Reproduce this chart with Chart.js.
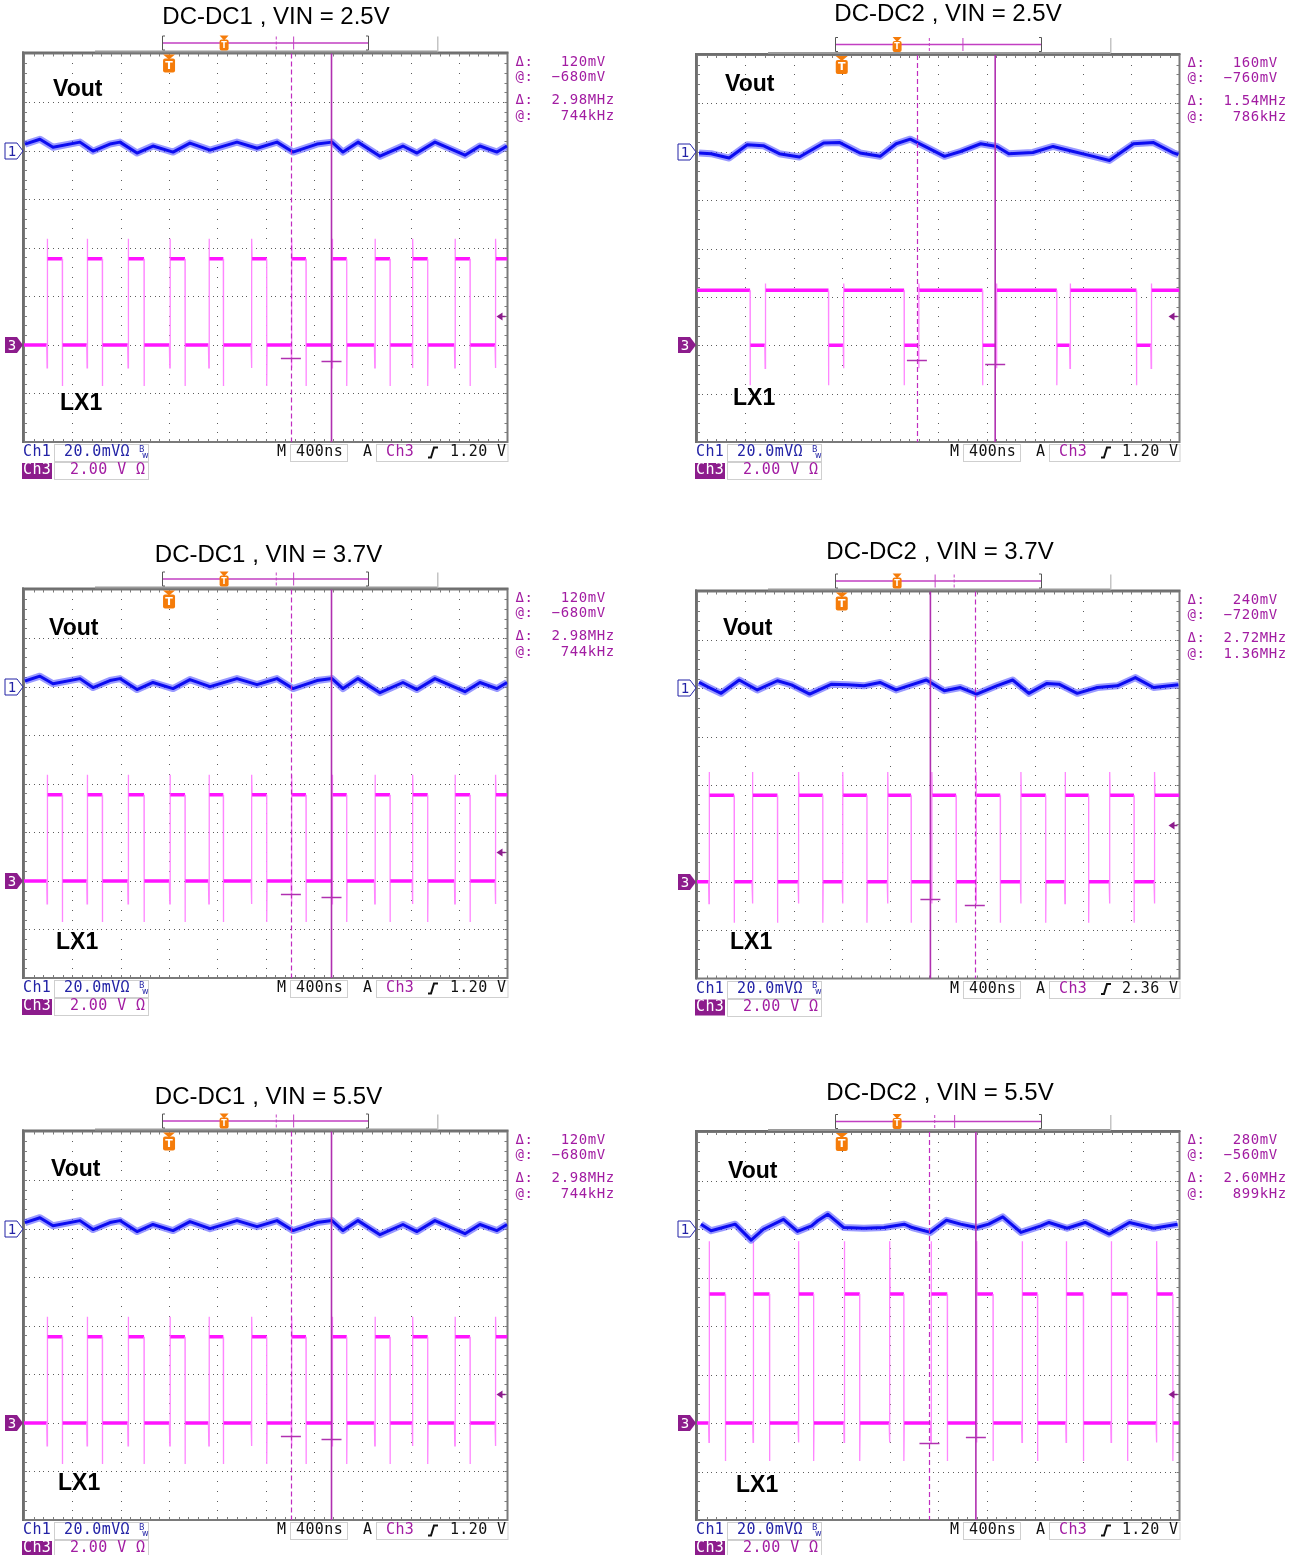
<!DOCTYPE html>
<html>
<head>
<meta charset="utf-8">
<title>DC-DC ripple captures</title>
<script src="https://cdn.jsdelivr.net/npm/chart.js@4"></script>
<style>
  body { margin: 0; background: #fff; }
  #page { position: relative; width: 1301px; height: 1555px; }
  #page canvas { position: absolute; }
</style>
</head>
<body>
<div id="page"></div>
<script>
const titles = ['DC-DC1 , VIN = 2.5V', 'DC-DC2 , VIN = 2.5V', 'DC-DC1 , VIN = 3.7V',
                'DC-DC2 , VIN = 3.7V', 'DC-DC1 , VIN = 5.5V', 'DC-DC2 , VIN = 5.5V'];

// Ch1 (Vout, AC coupled) ripple: [time ns, mV]
const voutA = [[8,2.7],[132,4.7],[240,1.4],[463,3.5],[571,-0.2],[711,2.7],[794,3.5],[935,-1.0],[1067,1.9],[1233,-0.6],[1373,3.1],[1539,0.2],[1762,3.5],[1928,1.0],[2093,3.5],[2225,-0.6],[2424,2.7],[2548,3.5],[2639,-0.6],[2763,3.5],[2945,-2.3],[3135,1.9],[3251,-1.0],[3400,3.5],[3648,-1.9],[3772,1.9],[3913,-0.6],[3996,1.9]];
const voutB = [[17,-0.5],[117,-0.8],[266,-2.6],[416,2.9],[550,2.5],[682,-0.8],[849,-2.2],[1050,3.6],[1184,3.8],[1351,-0.5],[1518,-1.9],[1651,3.3],[1768,5.2],[1918,1.5],[2052,-1.9],[2185,0.1],[2352,3.3],[2486,2.2],[2585,-0.8],[2785,-0.3],[2952,2.2],[3119,0.1],[3286,-1.9],[3419,-3.6],[3618,3.3],[3785,3.8],[3951,-0.5],[3991,-1.2]];
const voutC = [[8,2.3],[132,4.3],[240,1.2],[463,3.3],[571,-0.4],[711,2.5],[794,3.3],[935,-1.2],[1067,1.7],[1233,-0.8],[1373,2.9],[1539,0.0],[1762,3.3],[1928,0.8],[2093,3.3],[2225,-0.8],[2424,2.5],[2548,3.3],[2639,-0.8],[2763,3.3],[2945,-2.5],[3135,1.7],[3251,-1.2],[3400,3.3],[3648,-2.1],[3772,1.7],[3913,-0.8],[3996,1.7]];
const voutD = [[17,2.4],[100,0.3],[200,-2.1],[350,3.4],[500,-0.7],[667,3.1],[784,1.4],[934,-2.4],[1116,1.7],[1250,1.4],[1384,1.0],[1517,2.4],[1650,-0.7],[1751,1.0],[1901,3.4],[2050,-1.0],[2184,0.3],[2318,-2.4],[2484,1.0],[2617,3.4],[2751,-2.1],[2901,2.0],[3001,1.7],[3152,-2.1],[3318,0.3],[3485,1.0],[3634,4.4],[3785,0.3],[3991,1.4]];
const voutE = [[8,2.5],[132,4.5],[240,1.2],[463,3.3],[571,-0.4],[711,2.5],[794,3.3],[935,-1.2],[1067,1.7],[1233,-0.8],[1373,2.9],[1539,0.0],[1762,3.3],[1928,0.8],[2093,3.3],[2225,-0.8],[2424,2.5],[2548,3.3],[2639,-0.8],[2763,3.3],[2945,-2.5],[3135,1.7],[3251,-1.2],[3400,3.3],[3648,-2.1],[3772,1.7],[3913,-0.8],[3996,1.7]];
const voutF = [[33,2.0],[117,-0.7],[216,0.6],[316,2.0],[449,-4.6],[550,-0.1],[717,4.0],[833,-1.0],[950,1.3],[1000,3.4],[1084,6.1],[1217,0.6],[1384,0.3],[1551,0.6],[1718,2.0],[1784,0.6],[1934,-1.4],[2068,3.6],[2185,2.0],[2318,0.6],[2418,2.0],[2535,5.0],[2685,-1.4],[2851,1.3],[2918,2.7],[3068,0.3],[3218,2.7],[3418,-2.1],[3585,2.7],[3785,0.3],[3984,2.0]];

// Ch3 (LX1) switching edges, ns
const riseA = [193,524,863,1208,1531,1884,2215,2551,2904,3216,3566,3902];
const fallA = [317,648,993,1332,1649,2008,2333,2670,3028,3340,3690];
const riseB = [567,1217,1840,2484,3094,3767];
const fallB = [440,1090,1717,2367,2983,3643];
const riseD = [101,461,843,1209,1582,1948,2314,2686,3052,3422,3794];
const fallD = [308,667,1043,1409,1775,2148,2514,2891,3247,3623];
const riseF = [101,467,843,1222,1598,1941,2320,2696,3062,3435,3811];
const fallF = [235,601,967,1349,1715,2075,2454,2823,3203,3569,3945];

// LX1 levels in V: low, high, overshoot, undershoot, dip before rise
const levelsA = [0, 3.55, 4.37, -1.69, -0.95];
const levelsB = [0, 2.27, 2.55, -1.65, -0.95];
const levelsD = [0, 3.58, 4.54, -1.70, -0.90];
const levelsF = [0, 5.32, 7.50, -1.57, -0.80];

// cursors: [dashed, solid] time in ns and the level each one marks on Ch3 in V
const cursorTimes = [[2208,2544],[1823,2472],[2208,2544],[2303,1935],[2208,2544],[1927,2312]];
const cursorVolts = [[-0.56,-0.68],[-0.60,-0.76],[-0.56,-0.68],[-0.96,-0.72],[-0.56,-0.68],[-0.84,-0.56]];
const dV = ['120mV', '160mV', '120mV', '240mV', '120mV', '280mV'];
const atV = ['−680mV', '−760mV', '−680mV', '−720mV', '−680mV', '−560mV'];
const dF = ['2.98MHz', '1.54MHz', '2.98MHz', '2.72MHz', '2.98MHz', '2.60MHz'];
const atF = ['744kHz', '786kHz', '744kHz', '1.36MHz', '744kHz', '899kHz'];
const trigLevel = [1.20, 1.20, 1.20, 2.36, 1.20, 1.20];
const trigTime = 1200;
const ch1Scale = 20;   // mV/div
const ch3Scale = 2;    // V/div

const series = [
  [voutA, riseA, fallA, levelsA], [voutB, riseB, fallB, levelsB], [voutC, riseA, fallA, levelsA],
  [voutD, riseD, fallD, levelsD], [voutE, riseA, fallA, levelsA], [voutF, riseF, fallF, levelsF]
];

// page layout: canvas box, graticule box, offsets of the labels from the graticule
const panels = [
  { box: [0, 0, 650, 530],      plot: [24, 53.5, 507.5, 442],   title: [252, -36.5], vout: [29, 36.5], lx: [36, 350.5] },
  { box: [650, 0, 651, 530],    plot: [697, 55, 1179.5, 442],   title: [251, -41],   vout: [28, 30],   lx: [36, 344] },
  { box: [0, 530, 650, 540],    plot: [24, 589.5, 507.5, 978],  title: [244.5, -34.5], vout: [25, 39.5], lx: [32, 353.5] },
  { box: [650, 530, 651, 540],  plot: [697, 591.5, 1179.5, 978.5], title: [243, -39], vout: [26, 37], lx: [33, 351] },
  { box: [0, 1070, 650, 485],   plot: [24, 1131.5, 507.5, 1520], title: [244.5, -34.5], vout: [27, 38.5], lx: [34, 352.5] },
  { box: [650, 1070, 651, 485], plot: [697, 1132, 1179.5, 1520], title: [243, -39], vout: [31, 40], lx: [39, 354] }
];

const PURPLE = '#a21ca2';
const DARKPURPLE = '#8c1c8c';
const NAVY = '#2323a6';
const ORANGE = '#f57c0a';
const MONO = '"DejaVu Sans Mono", monospace';

function ch1Div(mv) { return 2 + mv / ch1Scale; }
function ch3Div(v) { return -2 + v / ch3Scale; }

function lxPoints(rises, falls, lv) {
  const [low, high, over, under, dip] = lv;
  const ev = rises.map(t => [t, 1]).concat(falls.map(t => [t, 0])).sort((a, b) => a[0] - b[0]);
  const pts = [{ x: 0, y: ch3Div(ev[0][1] ? low : high) }];
  ev.forEach(([t, up]) => {
    if (up) {
      pts.push({ x: t - 5, y: ch3Div(low) }, { x: t - 2, y: ch3Div(dip) }, { x: t, y: ch3Div(dip) },
               { x: t, y: ch3Div(over) }, { x: t + 3, y: ch3Div(high) });
    } else {
      pts.push({ x: t, y: ch3Div(high) }, { x: t, y: ch3Div(under) }, { x: t + 3, y: ch3Div(low) });
    }
  });
  const last = ev[ev.length - 1][1] ? high : low;
  pts.push({ x: 4000, y: ch3Div(last) });
  return pts;
}

function drawGraticule(chart) {
  const { ctx, chartArea: a, scales: { x, y } } = chart;
  ctx.save();
  ctx.fillStyle = '#5c5c5c';
  for (let i = 1; i < 10; i++) {
    const px = Math.round(x.getPixelForValue(i * 400));
    for (let k = 1; k < 40; k++) ctx.fillRect(px, Math.round(y.getPixelForValue(-4 + k * 0.2)), 1, 1);
  }
  for (let j = -3; j <= 3; j++) {
    const py = Math.round(y.getPixelForValue(j));
    for (let k = 1; k < 100; k++) ctx.fillRect(Math.round(x.getPixelForValue(k * 40)), py, 1, 1);
  }
  ctx.fillStyle = '#7c7c7c';
  for (let k = 1; k < 50; k++) {
    const px = Math.round(x.getPixelForValue(k * 80));
    ctx.fillRect(px, a.top, 1, 3);
    ctx.fillRect(px, a.bottom - 3, 1, 3);
  }
  for (let k = 1; k < 40; k++) {
    const py = Math.round(y.getPixelForValue(-4 + k * 0.2));
    ctx.fillRect(a.left, py, 3, 1);
    ctx.fillRect(a.right - 3, py, 3, 1);
  }
  ctx.strokeStyle = '#7a7a7a';
  ctx.lineWidth = 2;
  ctx.strokeRect(a.left, a.top, a.right - a.left, a.bottom - a.top);
  ctx.fillStyle = '#6e6e6e';
  ctx.fillRect(a.left - 2, a.top - 2, 2, a.bottom - a.top + 3);
  ctx.fillRect(a.left - 2, a.top - 2, a.right - a.left + 3, 2);
  ctx.restore();
}

function drawCursors(chart, i) {
  const { ctx, chartArea: a, scales: { x, y } } = chart;
  const [tDash, tSolid] = cursorTimes[i];
  const [vDash, vSolid] = cursorVolts[i];
  ctx.save();
  ctx.strokeStyle = '#c02cc0';
  ctx.lineWidth = 1.2;
  ctx.setLineDash([5, 3]);
  let px = Math.round(x.getPixelForValue(tDash)) + 0.5;
  ctx.beginPath(); ctx.moveTo(px, a.top); ctx.lineTo(px, a.bottom); ctx.stroke();
  ctx.setLineDash([]);
  ctx.strokeStyle = '#b030b0';
  ctx.lineWidth = 1.6;
  px = x.getPixelForValue(tSolid);
  ctx.beginPath(); ctx.moveTo(px, a.top); ctx.lineTo(px, a.bottom); ctx.stroke();
  ctx.lineWidth = 1.5;
  [[tDash, vDash], [tSolid, vSolid]].forEach(([t, v]) => {
    const cx = x.getPixelForValue(t), cy = Math.round(y.getPixelForValue(ch3Div(v))) + 0.5;
    ctx.beginPath(); ctx.moveTo(cx - 10, cy); ctx.lineTo(cx + 10, cy); ctx.stroke();
  });
  ctx.restore();
}

function tMarker(ctx, cx, top, w, h) {
  ctx.fillStyle = ORANGE;
  ctx.beginPath();
  ctx.moveTo(cx - w / 2, top); ctx.lineTo(cx + w / 2, top); ctx.lineTo(cx, top + 5);
  ctx.fill();
  ctx.beginPath();
  ctx.roundRect(cx - w / 2, top + 4, w, h, 2);
  ctx.fill();
  ctx.fillStyle = '#fff';
  ctx.font = 'bold ' + (h - 3) + 'px "DejaVu Sans", sans-serif';
  ctx.textAlign = 'center';
  ctx.textBaseline = 'middle';
  ctx.fillText('T', cx, top + 4 + h / 2 + 0.5);
}

function chMarker(ctx, right, cy, label, filled) {
  ctx.beginPath();
  ctx.moveTo(right - 18, cy - 8); ctx.lineTo(right - 6, cy - 8); ctx.lineTo(right, cy);
  ctx.lineTo(right - 6, cy + 8); ctx.lineTo(right - 18, cy + 8); ctx.closePath();
  if (filled) { ctx.fillStyle = DARKPURPLE; ctx.fill(); }
  else { ctx.fillStyle = '#fff'; ctx.fill(); ctx.strokeStyle = NAVY; ctx.lineWidth = 1; ctx.stroke(); }
  ctx.fillStyle = filled ? '#fff' : NAVY;
  ctx.font = '14px ' + MONO;
  ctx.textAlign = 'center';
  ctx.textBaseline = 'middle';
  ctx.fillText(label, right - 11, cy + 1);
}

function drawMarkers(chart, i) {
  const { ctx, chartArea: a, scales: { x, y } } = chart;
  ctx.save();
  chMarker(ctx, a.left - 1, Math.round(y.getPixelForValue(ch1Div(0))), '1', false);
  chMarker(ctx, a.left - 1, Math.round(y.getPixelForValue(ch3Div(0))), '3', true);
  // trigger level arrow
  const ty = Math.round(y.getPixelForValue(ch3Div(trigLevel[i]))) + 0.5;
  ctx.fillStyle = DARKPURPLE; ctx.strokeStyle = DARKPURPLE; ctx.lineWidth = 1.5;
  ctx.beginPath(); ctx.moveTo(a.right - 11, ty); ctx.lineTo(a.right - 5, ty - 4); ctx.lineTo(a.right - 5, ty + 4); ctx.fill();
  ctx.beginPath(); ctx.moveTo(a.right - 6, ty); ctx.lineTo(a.right - 2, ty); ctx.stroke();
  // trigger position
  tMarker(ctx, x.getPixelForValue(trigTime), a.top + 1, 12, 14);
  // record bar
  const bl = a.left + 138, br = a.left + 345, by = a.top - 10.5;
  ctx.fillStyle = '#9a9a9a';
  ctx.fillRect(a.left + 71, a.top - 3, 343, 2);
  ctx.fillStyle = '#c4c4c4';
  ctx.fillRect(a.left + 413, a.top - 17, 1.5, 15);
  ctx.strokeStyle = '#555'; ctx.lineWidth = 1;
  ctx.beginPath();
  ctx.moveTo(bl + 3, a.top - 17.5); ctx.lineTo(bl + 0.5, a.top - 17.5); ctx.lineTo(bl + 0.5, a.top - 3.5); ctx.lineTo(bl + 3, a.top - 3.5);
  ctx.moveTo(br - 3, a.top - 17.5); ctx.lineTo(br - 0.5, a.top - 17.5); ctx.lineTo(br - 0.5, a.top - 3.5); ctx.lineTo(br - 3, a.top - 3.5);
  ctx.stroke();
  ctx.strokeStyle = '#c23fc2'; ctx.lineWidth = 1.5;
  ctx.beginPath(); ctx.moveTo(bl + 1, by); ctx.lineTo(br - 1, by); ctx.stroke();
  const bx = t => bl + t / 4000 * (br - bl);
  ctx.lineWidth = 1;
  ctx.setLineDash([3, 2]);
  ctx.beginPath(); ctx.moveTo(bx(cursorTimes[i][0]), a.top - 17); ctx.lineTo(bx(cursorTimes[i][0]), a.top - 4); ctx.stroke();
  ctx.setLineDash([]);
  ctx.beginPath(); ctx.moveTo(bx(cursorTimes[i][1]), a.top - 17); ctx.lineTo(bx(cursorTimes[i][1]), a.top - 4); ctx.stroke();
  tMarker(ctx, bx(trigTime), a.top - 18, 9, 11);
  ctx.restore();
}

function boxText(ctx, x0, y0, w, h) {
  ctx.strokeStyle = '#cfcfcf'; ctx.lineWidth = 1;
  ctx.strokeRect(Math.round(x0) + 0.5, Math.round(y0) + 0.5, w, h);
}

function drawText(chart, i) {
  const { ctx, chartArea: a } = chart;
  const p = panels[i];
  ctx.save();
  ctx.textBaseline = 'middle';
  ctx.fillStyle = '#000';
  ctx.textAlign = 'center';
  ctx.font = '24px "Liberation Sans", Arial, sans-serif';
  ctx.fillText(titles[i], a.left + p.title[0], a.top + p.title[1]);
  ctx.textAlign = 'left';
  ctx.font = 'bold 23px "Liberation Sans", Arial, sans-serif';
  ctx.fillText('Vout', a.left + p.vout[0], a.top + p.vout[1]);
  ctx.fillText('LX1', a.left + p.lx[0], a.top + p.lx[1]);

  // cursor readout
  ctx.font = '14px ' + MONO;
  ctx.letterSpacing = '0.6px';
  ctx.fillStyle = PURPLE;
  const rx = a.right + 8, pad = (s, n) => ' '.repeat(Math.max(0, n - s.length)) + s;
  ctx.fillText('Δ:' + pad(dV[i], 8), rx, a.top + 8.5);
  ctx.fillText('@:' + pad(atV[i], 8), rx, a.top + 23.5);
  ctx.fillText('Δ:' + pad(dF[i], 9), rx, a.top + 46.5);
  ctx.fillText('@:' + pad(atF[i], 9), rx, a.top + 62.5);

  // bottom readout
  const r1 = a.bottom + 10.5, r2 = a.bottom + 28.5;
  boxText(ctx, a.left + 30, a.bottom + 2, 94, 17);
  boxText(ctx, a.left + 30, a.bottom + 20, 94, 17);
  boxText(ctx, a.left + 266, a.bottom + 2, 57, 17);
  boxText(ctx, a.left + 352, a.bottom + 2, a.right - a.left - 352, 17);
  ctx.font = '15px ' + MONO;
  ctx.letterSpacing = '0.4px';
  ctx.fillStyle = NAVY;
  ctx.fillText('Ch1', a.left - 1, r1);
  ctx.fillText('20.0mVΩ', a.left + 40, r1);
  ctx.font = '8px "DejaVu Sans", sans-serif';
  ctx.letterSpacing = '0px';
  ctx.fillText('B', a.left + 115, r1 - 3);
  ctx.fillText('w', a.left + 118, r1 + 3);
  ctx.font = '15px ' + MONO;
  ctx.letterSpacing = '0.4px';
  ctx.fillStyle = DARKPURPLE;
  ctx.fillRect(a.left - 2, a.bottom + 21, 30, 16);
  ctx.fillStyle = '#fff';
  ctx.fillText('Ch3', a.left - 1, r2);
  ctx.fillStyle = PURPLE;
  ctx.fillText('2.00 V Ω', a.left + 46, r2);
  ctx.fillStyle = '#111';
  ctx.fillText('M', a.left + 253, r1);
  ctx.fillText('400ns', a.left + 272, r1);
  ctx.fillText('A', a.left + 339, r1);
  ctx.fillStyle = PURPLE;
  ctx.fillText('Ch3', a.left + 362, r1);
  ctx.fillStyle = '#111';
  ctx.textAlign = 'right';
  ctx.fillText(trigLevel[i].toFixed(2) + ' V', a.right - 1, r1);
  // rising-edge trigger slope
  ctx.strokeStyle = '#111'; ctx.lineWidth = 2;
  const ex = a.left + 404;
  ctx.beginPath(); ctx.moveTo(ex, r1 + 5); ctx.lineTo(ex + 3, r1 + 5); ctx.lineTo(ex + 6, r1 - 5); ctx.lineTo(ex + 10, r1 - 5); ctx.stroke();
  ctx.restore();
}

const scopeDecor = {
  id: 'scopeDecor',
  beforeDatasetsDraw(chart, args, opts) { drawGraticule(chart); },
  afterDatasetsDraw(chart, args, opts) {
    drawCursors(chart, opts.idx);
    drawMarkers(chart, opts.idx);
    drawText(chart, opts.idx);
  }
};

const page = document.getElementById('page');
panels.forEach((p, i) => {
  const [bx, by, bw, bh] = p.box;
  const canvas = document.createElement('canvas');
  canvas.width = bw; canvas.height = bh;
  canvas.style.left = bx + 'px'; canvas.style.top = by + 'px';
  canvas.style.width = bw + 'px'; canvas.style.height = bh + 'px';
  page.appendChild(canvas);
  const [vout, rises, falls, levels] = series[i];
  const voutPts = vout.map(([t, mv]) => ({ x: t, y: ch1Div(mv) }));
  const lxPts = lxPoints(rises, falls, levels);
  const edge = c => Math.abs(c.p1.x - c.p0.x) < 1.5;
  new Chart(canvas, {
    type: 'line',
    data: {
      datasets: [
        // core of the Ch1 trace, with a softer band behind it for the noise
        { label: 'Vout', data: voutPts, borderColor: '#0c0cf0', borderWidth: 3, borderJoinStyle: 'round' },
        { label: 'Vout band', data: voutPts, borderColor: 'rgba(70,70,255,0.55)', borderWidth: 7, borderJoinStyle: 'round' },
        {
          label: 'LX1',
          data: lxPts,
          borderColor: '#ff14ff',
          borderWidth: 3.5,
          segment: {
            borderColor: c => edge(c) ? '#ff86ff' : '#ff14ff',
            borderWidth: c => edge(c) ? 1.3 : 3.5
          }
        }
      ]
    },
    options: {
      responsive: false,
      animation: false,
      events: [],
      layout: { padding: { left: p.plot[0] - bx, top: p.plot[1] - by, right: bx + bw - p.plot[2], bottom: by + bh - p.plot[3] } },
      elements: { point: { radius: 0 }, line: { tension: 0 } },
      plugins: { legend: { display: false }, tooltip: { enabled: false }, scopeDecor: { idx: i } },
      scales: {
        x: { type: 'linear', min: 0, max: 4000, display: false },
        y: { type: 'linear', min: -4, max: 4, display: false }
      }
    },
    plugins: [scopeDecor]
  });
});
</script>
</body>
</html>
